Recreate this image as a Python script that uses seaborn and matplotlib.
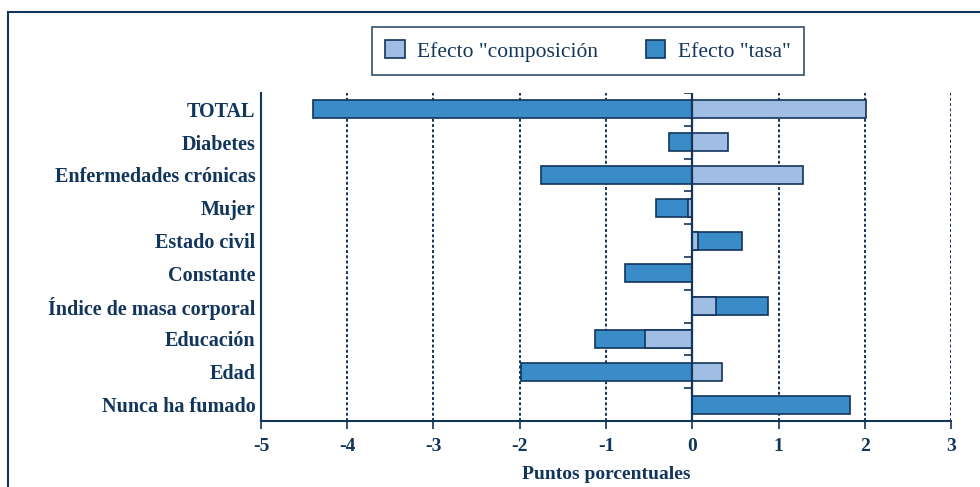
# Descomposición: efecto composición vs efecto tasa
import numpy as np
import pandas as pd
import matplotlib
matplotlib.use("Agg")
import matplotlib.pyplot as plt
import matplotlib.patches as mpatches
import seaborn as sns

# Datos
categorias = ["TOTAL", "Diabetes", "Enfermedades crónicas", "Mujer", "Estado civil",
              "Constante", "Índice de masa corporal", "Educación", "Edad", "Nunca ha fumado"]
composicion = [2.01, 0.42, 1.28, -0.05, 0.07, 0.0, 0.27, -0.55, 0.35, 0.0]
tasa = [-4.40, -0.27, -1.75, -0.37, 0.51, -0.78, 0.61, -0.58, -1.99, 1.83]
xticks = [-5, -4, -3, -2, -1, 0, 1, 2, 3]

navy = "#12355b"
claro = "#a0bde3"
oscuro = "#3a8cc9"

comp = np.array(composicion)
ts = np.array(tasa)
# extremo exterior de la barra "tasa" (apilada sobre composición si tienen el mismo signo)
mismo_signo = np.sign(comp) == np.sign(ts)
exterior = np.where(mismo_signo, comp + ts, ts)

df = pd.DataFrame({"cat": categorias, "comp": comp, "ext": exterior})

sns.set_style("white")
plt.rcParams["font.family"] = ["Liberation Serif", "DejaVu Serif"]

fig = plt.figure(figsize=(9.8, 4.87), dpi=100)
ax = fig.add_axes([261 / 980, 1 - 421 / 487, 690 / 980, 328 / 487])

sns.barplot(data=df, y="cat", x="ext", order=categorias, color=oscuro, saturation=1,
            width=0.55, edgecolor=navy, linewidth=1.2, ax=ax, zorder=3)
sns.barplot(data=df, y="cat", x="comp", order=categorias, color=claro, saturation=1,
            width=0.55, edgecolor=navy, linewidth=1.2, ax=ax, zorder=4)
# barras con valor cero no deben dejar línea
for p in ax.patches:
    if abs(p.get_width()) < 1e-9:
        p.set_visible(False)

ax.set_xlim(-5, 3)
ax.set_ylim(len(categorias) - 0.5, -0.5)

for v in xticks:
    if v != 0:
        ax.axvline(v, color=navy, linestyle=(0, (1.5, 1.2)), linewidth=1.4, zorder=1)
ax.axvline(0, color=navy, linewidth=1.6, zorder=5)
ax.hlines(np.arange(len(categorias) + 1) - 0.5, -0.09, 0, color=navy, linewidth=1.2, zorder=5)

ax.set_xticks(xticks)
ax.set_xticklabels([str(v) for v in xticks], fontsize=14, fontweight="bold", color=navy)
ax.set_yticks(range(len(categorias)))
ax.set_yticklabels(categorias, fontsize=14.5, fontweight="bold", color=navy)
ax.tick_params(axis="y", length=0, pad=4)
ax.tick_params(axis="x", length=6, width=1.2, color=navy, direction="out", pad=6, bottom=True)
ax.set_ylabel("")
ax.set_xlabel("Puntos porcentuales", fontsize=14, fontweight="bold", color=navy, labelpad=8)

for s in ["top", "right"]:
    ax.spines[s].set_visible(False)
for s in ["left", "bottom"]:
    ax.spines[s].set_color(navy)
    ax.spines[s].set_linewidth(1.5)

handles = [mpatches.Patch(facecolor=claro, edgecolor=navy, linewidth=1.2, label='Efecto "composición'),
           mpatches.Patch(facecolor=oscuro, edgecolor=navy, linewidth=1.2, label='Efecto "tasa"')]
leg = fig.legend(handles=handles, loc="center", bbox_to_anchor=(588 / 980, 1 - 51 / 487), ncol=2,
                 fontsize=15.5, frameon=True, fancybox=False, handlelength=0.9, handleheight=0.9,
                 columnspacing=2.2, borderpad=0.6, handletextpad=0.6, borderaxespad=0)
leg.get_frame().set_edgecolor(navy)
leg.get_frame().set_linewidth(1.3)
for t in leg.get_texts():
    t.set_color(navy)

# marco exterior
fig.patches.append(mpatches.Rectangle((8 / 980, -0.1), 1.2, 1 - 12 / 487 + 0.1, transform=fig.transFigure,
                                      fill=False, edgecolor=navy, linewidth=1.5))

fig.savefig("out.png", dpi=100)
plt.close(fig)
